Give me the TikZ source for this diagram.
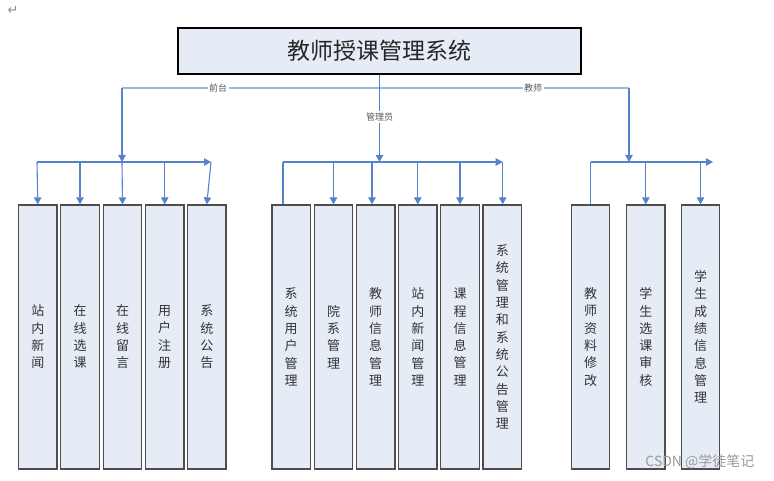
\documentclass[tikz,border=0pt]{standalone}
\usepackage{fontspec}
\newfontfamily\cjk{Noto Sans CJK SC}
\newfontfamily\symf{DejaVu Sans}
\usetikzlibrary{arrows.meta}
\definecolor{boxfill}{HTML}{E6ECF6}
\definecolor{lnblue}{HTML}{5582CB}
\definecolor{lnlight}{HTML}{9DB8E0}
\definecolor{boxedge}{HTML}{4D4D4D}
\tikzset{
  leaf/.style={draw=boxedge, line width=1.3pt, fill=boxfill, minimum width=38.5pt, minimum height=264pt, inner sep=0pt, align=center, font=\cjk\fontsize{13}{17.3}\selectfont, text=black!80},
  conn/.style={draw=lnblue, line width=1.1pt},
  arr/.style={conn, -{Triangle[width=7.5pt,length=7pt]}},
  rolelabel/.style={fill=white, inner sep=1.5pt, font=\cjk\fontsize{9}{10}\selectfont, text=black!65}
}
\begin{document}
\begin{tikzpicture}[x=1pt,y=-1pt]
\useasboundingbox (0,0) rectangle (774,481);
\node[text=black!45, font=\symf\fontsize{13}{13}\selectfont] (ret) at (13,10) {↵};
% title
\node[draw=black, line width=1.2pt, fill=boxfill, minimum width=403pt, minimum height=46pt, inner sep=0pt, font=\cjk\fontsize{23}{26}\selectfont, text=black!85] (T) at (379.5,51) {教师授课管理系统};
% hubs
\coordinate (L88) at (122,88);
\coordinate (R88) at (629,88);
\coordinate (Lhub) at (122,162);
\coordinate (Rhub) at (629,162);
\coordinate (Mhub) at (379.5,162);
% left boxes
\node[leaf] (b1) at (37.8,337) {站\\内\\新\\闻};
\node[leaf] (b2) at (80,337) {在\\线\\选\\课};
\node[leaf] (b3) at (122.5,337) {在\\线\\留\\言};
\node[leaf] (b4) at (164.7,337) {用\\户\\注\\册};
\node[leaf] (b5) at (206.8,337) {系\\统\\公\\告};
% middle boxes
\node[leaf] (m1) at (291.2,337) {系\\统\\用\\户\\管\\理};
\node[leaf] (m2) at (333.5,337) {院\\系\\管\\理};
\node[leaf] (m3) at (375.6,337) {教\\师\\信\\息\\管\\理};
\node[leaf] (m4) at (417.8,337) {站\\内\\新\\闻\\管\\理};
\node[leaf] (m5) at (460,337) {课\\程\\信\\息\\管\\理};
\node[leaf] (m6) at (502.3,337) {系\\统\\管\\理\\和\\系\\统\\公\\告\\管\\理};
% right boxes
\node[leaf] (r1) at (590.5,337) {教\\师\\资\\料\\修\\改};
\node[leaf] (r2) at (645.8,337) {学\\生\\选\\课\\审\\核};
\node[leaf] (r3) at (700.5,337) {学\\生\\成\\绩\\信\\息\\管\\理};
% top level connectors
\draw[draw=lnlight, line width=1.2pt] (L88) -- (R88);
\draw[arr] (T.south) -- (Mhub);
\draw[arr] (L88) -- (Lhub);
\draw[arr] (R88) -- (Rhub);
\node[rolelabel] (lq) at (218,88) {前台};
\node[rolelabel] (lt) at (533,88) {教师};
\node[rolelabel] (lm) at (379.5,117) {管理员};
% left group bar
\coordinate (lbW) at (37,162);
\coordinate (lbE) at (211,162);
\draw[arr] (lbW) -- (lbE);
\draw[arr] (lbW) -- (b1.north);
\draw[arr] (b2.north |- lbW) -- (b2.north);
\draw[arr] (Lhub) -- (b3.north);
\draw[arr] (b4.north |- lbW) -- (b4.north);
\draw[arr] (lbE) -- (b5.north);
% middle group bar
\coordinate (mbW) at (283,162);
\coordinate (mbE) at (502.7,162);
\coordinate (m3d) at (372,162);
\draw[arr] (mbW) -- (mbE);
\draw[conn] (mbW) -- (mbW |- m1.north);
\draw[arr] (m2.north |- mbW) -- (m2.north);
\draw[arr] (m3d) -- (m3d |- m3.north);
\draw[arr] (m4.north |- mbW) -- (m4.north);
\draw[arr] (m5.north |- mbW) -- (m5.north);
\draw[arr] (mbE) -- (mbE |- m6.north);
% right group bar
\coordinate (rbW) at (590.5,162);
\coordinate (rbE) at (713,162);
\draw[arr] (rbW) -- (rbE);
\draw[conn] (rbW) -- (r1.north);
\draw[arr] (r2.north |- rbW) -- (r2.north);
\draw[arr] (r3.north |- rbW) -- (r3.north);
% watermark
\node[text=black!40, font=\cjk\fontsize{14}{14}\selectfont, anchor=east] (wm) at (758,462) {CSDN @学徒笔记};
\end{tikzpicture}
\end{document}
